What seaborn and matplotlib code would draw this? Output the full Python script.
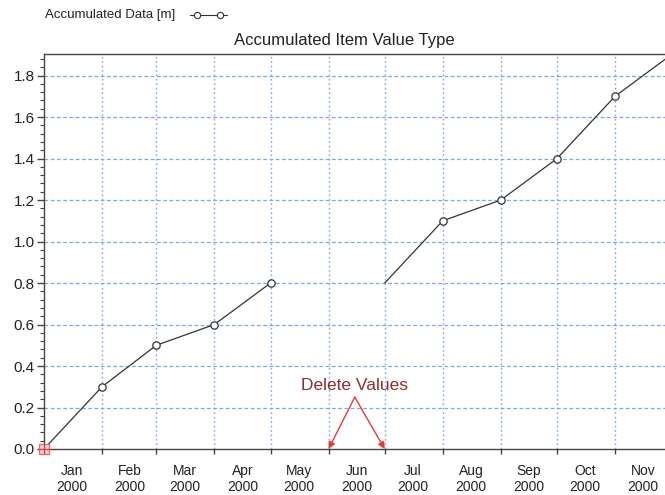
import numpy as np
import pandas as pd
import matplotlib
matplotlib.use('Agg')
import matplotlib.pyplot as plt
import matplotlib.dates as mdates
import seaborn as sns

months = pd.to_datetime(['2000-01-01', '2000-02-01', '2000-03-01', '2000-04-01', '2000-05-01', '2000-06-01',
                         '2000-07-01', '2000-08-01', '2000-09-01', '2000-10-01', '2000-11-01', '2000-12-01'])
values = [0.0, 0.3, 0.5, 0.6, 0.8, np.nan, 0.8, 1.1, 1.2, 1.4, 1.7, 1.9]
has_marker = [True, True, True, True, True, False, False, True, True, True, True, True]
deleted = pd.to_datetime(['2000-06-01', '2000-07-01'])
month_labels = ['Jan\n2000', 'Feb\n2000', 'Mar\n2000', 'Apr\n2000', 'May\n2000', 'Jun\n2000',
                'Jul\n2000', 'Aug\n2000', 'Sep\n2000', 'Oct\n2000', 'Nov\n2000']

sns.set_style('white')
plt.rcParams['font.family'] = ['Liberation Sans', 'DejaVu Sans']

df = pd.DataFrame({'date': months, 'value': values, 'marker': has_marker})
# split the series at the gap so the line breaks
df['segment'] = df['value'].isna().cumsum()
df = df.dropna()

fig = plt.figure(figsize=(6.65, 4.95), dpi=100)
ax = fig.add_axes([44 / 665, 1 - 449 / 495, 1 - 44 / 665, (449 - 54) / 495])

line_color = '#333333'
for seg, part in df.groupby('segment'):
    sns.lineplot(data=part, x='date', y='value', ax=ax, color=line_color, linewidth=0.9, clip_on=True)
pts = df[df['marker']]
sns.scatterplot(data=pts, x='date', y='value', ax=ax, marker='o', s=28, facecolor='white',
                edgecolor='#333333', linewidth=0.9, zorder=4)

# highlighted first point
ax.plot(months[0], values[0], marker='s', ms=7, mfc='#f7d4d4', mec='#dc7070', mew=1.0, zorder=5, clip_on=False)
ax.plot(months[0], values[0], marker='+', ms=7, mec='#d04848', mew=1.0, zorder=6, clip_on=False)

x0 = mdates.date2num(pd.Timestamp('2000-01-01'))
x_right = x0 + 305 * (665 - 44) / (615 - 44)
ax.set_xlim(x0, x_right)
ax.set_ylim(0, 1.904)

ax.xaxis.set_major_locator(mdates.MonthLocator())
ax.xaxis.set_major_formatter(plt.NullFormatter())
mid = [mdates.date2num(d) + 15 for d in months[:11]]
ax.set_xticks(mid, minor=True)
ax.set_xticklabels(month_labels, minor=True, fontsize=10, color='#222222', linespacing=1.15)
ax.tick_params(axis='x', which='minor', length=0, pad=11)
ax.tick_params(axis='x', which='major', direction='out', length=3.5, width=1, color='#444444', bottom=True)

ax.set_yticks(np.arange(0, 1.81, 0.2))
ax.set_yticklabels([f'{v:.1f}' for v in np.arange(0, 1.81, 0.2)], fontsize=11, color='#222222')
ax.set_yticks(np.arange(0, 1.9, 0.04), minor=True)
ax.tick_params(axis='y', which='major', direction='out', length=5, width=1, color='#444444', left=True, pad=1.5)
ax.tick_params(axis='y', which='minor', direction='out', length=3, width=0.8, color='#444444', left=True)

grid_color = '#7aa8e2'
for y in np.arange(0.2, 1.81, 0.2):
    ax.axhline(y, color=grid_color, linestyle=(0, (3, 2)), linewidth=0.9, zorder=1)
for d in months[1:]:
    ax.axvline(mdates.date2num(d), color=grid_color, linestyle=(0, (1.2, 2)), linewidth=1.0, zorder=1)

ax.set_xlabel('')
ax.set_ylabel('')
for side in ['top', 'left', 'bottom']:
    ax.spines[side].set_color('#444444')
    ax.spines[side].set_linewidth(1.0)
ax.spines['right'].set_visible(False)

# annotation for the deleted values
tip = (mdates.date2num(pd.Timestamp('2000-06-15')), 0.25)
ax.text(tip[0], 0.308, 'Delete Values', ha='center', va='center', fontsize=12.5, color='#8b2f2f')
for d in deleted:
    ax.annotate('', xy=(mdates.date2num(d), 0.0), xytext=tip,
                arrowprops=dict(arrowstyle='-|>', color='#e03c3c', lw=1.0, mutation_scale=10,
                                shrinkA=0, shrinkB=0), annotation_clip=False)

fig.text(344.5 / 665, 1 - 40 / 495, 'Accumulated Item Value Type', ha='center', va='center',
         fontsize=12, color='#222222')

# legend in the top left corner
fig.text(45 / 665, 1 - 15 / 495, 'Accumulated Data [m]', ha='left', va='center', fontsize=9.5, color='#222222')
lx = np.array([190, 197, 210, 220, 227]) / 665
ly = np.full(5, 1 - 15 / 495)
fig.add_artist(plt.Line2D(lx, ly, color='#333333', lw=0.8))
fig.add_artist(plt.Line2D(lx[[1, 3]], ly[[1, 3]], ls='none', marker='o', ms=4.5, mfc='white', mec='#333333', mew=0.8))

fig.savefig('out.png', dpi=100)
